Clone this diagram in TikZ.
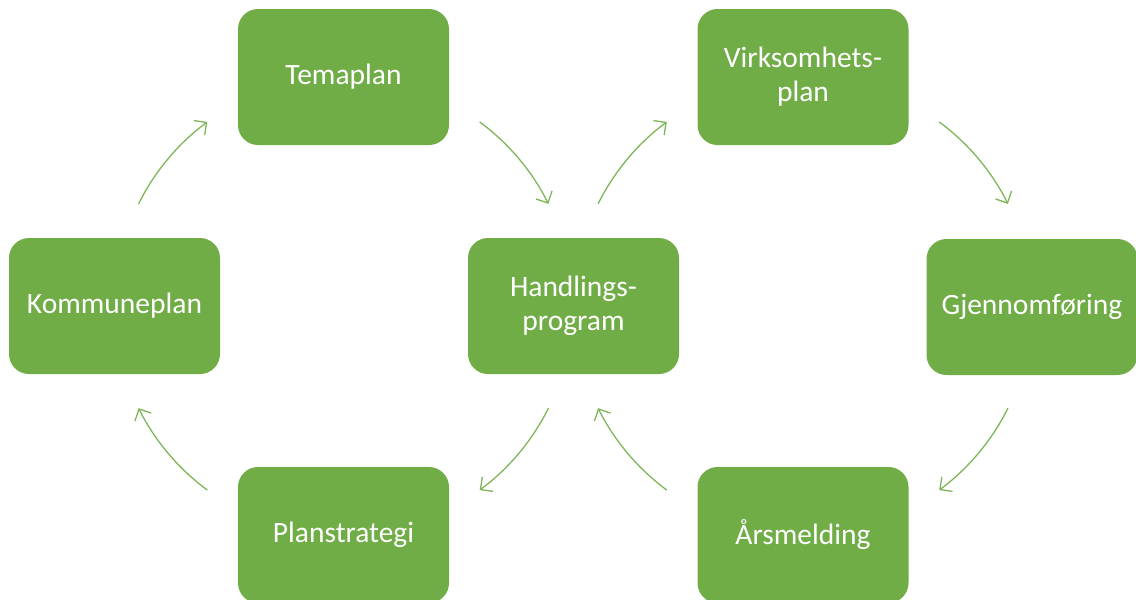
\documentclass[tikz,border=0pt]{standalone}
\usepackage{fontspec}
\setmainfont{Carlito}
\usetikzlibrary{arrows.meta}
\definecolor{grn}{HTML}{70AD47}
\begin{document}
\begin{tikzpicture}[x=1pt,y=1pt,
  box/.style={draw=none,fill=grn,rounded corners=20pt,minimum width=211pt,minimum height=136pt,
    inner sep=0pt,text=white,align=center,font=\fontsize{29.5}{34}\selectfont},
  arr/.style={draw=grn!90!white,line width=1.3pt,-{Straight Barb[length=9pt,width=18pt,line width=1.3pt]}}]
\useasboundingbox (0,0) rectangle (1136,-600);
\node[box] (tema) at (343.5,-77) {Temaplan};
\node[box] (virk) at (803,-77) {Virksomhets-\\plan};
\node[box] (komm) at (114.5,-306) {Kommuneplan};
\node[box] (hand) at (573.5,-306) {Handlings-\\program};
\node[box] (gjen) at (1032,-307) {Gjennomføring};
\node[box] (plan) at (343.5,-535) {Planstrategi};
\node[box] (arsm) at (803,-535) {Årsmelding};
\coordinate (L) at (343.5,-306);
\coordinate (R) at (803,-306);
% left cycle
\draw[arr] ([shift={(153.5:229)}]L) arc[start angle=153.5,end angle=126.5,radius=229];
\draw[arr] ([shift={(53.5:229)}]L) arc[start angle=53.5,end angle=26.5,radius=229];
\draw[arr] ([shift={(-26.5:229)}]L) arc[start angle=-26.5,end angle=-53.5,radius=229];
\draw[arr] ([shift={(-126.5:229)}]L) arc[start angle=-126.5,end angle=-153.5,radius=229];
% right cycle
\draw[arr] ([shift={(153.5:229)}]R) arc[start angle=153.5,end angle=126.5,radius=229];
\draw[arr] ([shift={(53.5:229)}]R) arc[start angle=53.5,end angle=26.5,radius=229];
\draw[arr] ([shift={(-26.5:229)}]R) arc[start angle=-26.5,end angle=-53.5,radius=229];
\draw[arr] ([shift={(-126.5:229)}]R) arc[start angle=-126.5,end angle=-153.5,radius=229];
\end{tikzpicture}
\end{document}
